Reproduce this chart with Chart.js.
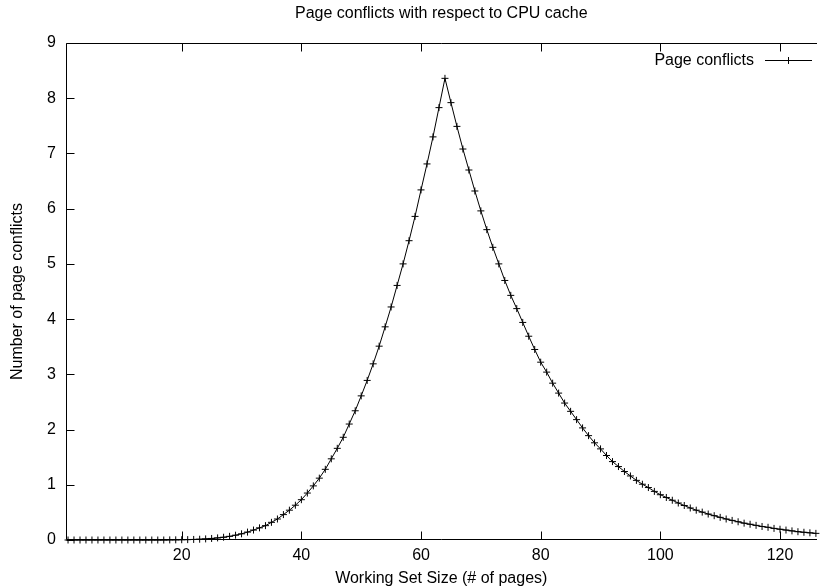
<!DOCTYPE html>
<html><head><meta charset="utf-8">
<script src="https://cdn.jsdelivr.net/npm/chart.js@4.4.1/dist/chart.umd.min.js"></script>
<style>html,body{margin:0;padding:0;background:#fff;overflow:hidden}#wrap{width:821px;height:588px;position:relative}</style>
</head><body><div id="wrap"><canvas id="c" width="821" height="588"></canvas></div>
<script>
const chartTitle = 'Page conflicts with respect to CPU cache';
const xAxisTitle = 'Working Set Size (# of pages)';
const yAxisTitle = 'Number of page conflicts';
const seriesLabel = 'Page conflicts';

const workingSetSize = [
  1,2,3,4,5,6,7,8,9,10,11,12,13,14,15,16,17,18,19,20,
  21,22,23,24,25,26,27,28,29,30,31,32,33,34,35,36,37,38,39,40,
  41,42,43,44,45,46,47,48,49,50,51,52,53,54,55,56,57,58,59,60,
  61,62,63,64,65,66,67,68,69,70,71,72,73,74,75,76,77,78,79,80,
  81,82,83,84,85,86,87,88,89,90,91,92,93,94,95,96,97,98,99,100,
  101,102,103,104,105,106,107,108,109,110,111,112,113,114,115,116,117,118,119,120,
  121,122,123,124,125,126
];
const pageConflicts = [
  0,0,0,0,0,0,0,0,0,0,0,0,0,0,0,0,0,0.002,0.003,0.005,
  0.007,0.010,0.014,0.020,0.028,0.038,0.050,0.066,0.087,0.112,0.143,0.18,0.22,0.26,0.32,0.38,0.46,0.54,0.63,0.73,
  0.85,0.98,1.12,1.28,1.47,1.66,1.86,2.10,2.34,2.61,2.89,3.19,3.51,3.86,4.22,4.61,5.00,5.42,5.86,6.34,
  6.81,7.30,7.83,8.36,7.92,7.49,7.08,6.70,6.32,5.96,5.62,5.30,5.00,4.70,4.43,4.19,3.94,3.69,3.45,3.22,
  3.04,2.84,2.66,2.48,2.33,2.18,2.03,1.89,1.76,1.65,1.53,1.42,1.33,1.24,1.16,1.08,1.01,0.95,0.88,0.82,
  0.77,0.72,0.67,0.625,0.58,0.54,0.505,0.47,0.44,0.41,0.38,0.355,0.33,0.305,0.285,0.265,0.245,0.23,0.21,0.195,
  0.18,0.165,0.15,0.14,0.13,0.12
];
const xTickValues = [20,40,60,80,100,120];
const yTickValues = [0,1,2,3,4,5,6,7,8,9];

const FONT = '"Liberation Sans", Arial, Helvetica, sans-serif';
const FS = 16;

const framePlugin = {
  id: 'frame',
  afterDraw(chart) {
    const {ctx, chartArea: a, scales: {x, y}} = chart;
    ctx.save();
    ctx.strokeStyle = '#000';
    ctx.lineWidth = 1;
    const L = Math.round(a.left) + 0.5, R = Math.round(a.right);
    const T = Math.round(a.top) + 0.5, B = Math.round(a.bottom) - 0.5;
    ctx.beginPath();
    ctx.moveTo(R, T); ctx.lineTo(L, T); ctx.lineTo(L, B); ctx.lineTo(R, B);
    const tl = 8;
    xTickValues.forEach(v => {
      const px = Math.round(x.getPixelForValue(v)) + 0.5;
      ctx.moveTo(px, B); ctx.lineTo(px, B - tl);
      ctx.moveTo(px, T); ctx.lineTo(px, T + tl);
    });
    yTickValues.forEach(v => {
      const py = Math.round(y.getPixelForValue(v)) + 0.5;
      ctx.moveTo(L, py); ctx.lineTo(L + tl, py);
    });
    ctx.stroke();
    // legend (gnuplot style: text then sample)
    const ds = chart.data.datasets[0];
    ctx.fillStyle = '#000';
    ctx.font = FS + 'px ' + FONT;
    ctx.textAlign = 'right';
    ctx.textBaseline = 'alphabetic';
    ctx.fillText(ds.label, 754, 65);
    ctx.beginPath();
    ctx.moveTo(765, 60.5); ctx.lineTo(812, 60.5);
    ctx.moveTo(784.5, 60.5); ctx.lineTo(792.5, 60.5);
    ctx.moveTo(788.5, 57); ctx.lineTo(788.5, 64);
    ctx.stroke();
    ctx.restore();
  }
};

new Chart(document.getElementById('c'), {
  type: 'scatter',
  data: {
    datasets: [{
      label: seriesLabel,
      data: workingSetSize.map((v, i) => ({x: v, y: pageConflicts[i]})),
      showLine: true,
      clip: false,
      borderColor: '#000',
      backgroundColor: '#000',
      borderWidth: 1,
      tension: 0,
      pointStyle: 'cross',
      pointRadius: 3.5,
      pointBorderWidth: 1,
      pointBorderColor: '#000',
      pointHoverRadius: 3.5
    }]
  },
  options: {
    responsive: false,
    animation: false,
    devicePixelRatio: 1,
    layout: {padding: {left: 0, right: 0, top: 0, bottom: 0}},
    plugins: {
      legend: {display: false},
      tooltip: {enabled: false},
      title: {
        display: true,
        fullSize: false,
        text: chartTitle,
        color: '#000',
        font: {family: FONT, size: FS, weight: 'normal'},
        padding: {top: 4, bottom: 43 - 4 - FS * 1.2}
      }
    },
    scales: {
      x: {
        type: 'linear',
        position: 'bottom',
        min: 0.66,
        max: 126.1,
        afterBuildTicks: s => { s.ticks = xTickValues.map(v => ({value: v})); },
        afterFit: s => { s.height = 48; },
        grid: {display: false, drawTicks: false},
        border: {display: false},
        ticks: {color: '#000', font: {family: FONT, size: FS}, padding: 6, maxRotation: 0, autoSkip: false},
        title: {display: true, text: xAxisTitle, color: '#000', font: {family: FONT, size: FS}, padding: {top: 0, bottom: 0}}
      },
      y: {
        type: 'linear',
        position: 'left',
        min: 0,
        max: 9,
        afterBuildTicks: s => { s.ticks = yTickValues.map(v => ({value: v})); },
        afterFit: s => { s.width = 66; },
        grid: {display: false, drawTicks: false},
        border: {display: false},
        ticks: {color: '#000', font: {family: FONT, size: FS}, padding: 10},
        title: {display: true, text: yAxisTitle, color: '#000', font: {family: FONT, size: FS}, padding: {top: 8.4, bottom: 0}}
      }
    }
  },
  plugins: [framePlugin]
});
</script>
</body></html>
